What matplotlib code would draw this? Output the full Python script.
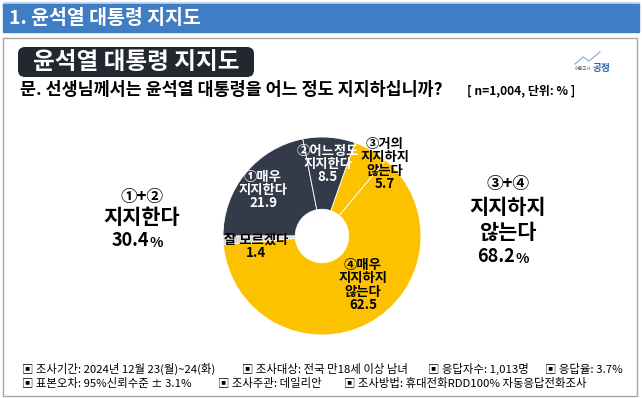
import numpy as np
import matplotlib.pyplot as plt
from matplotlib.patches import Rectangle, FancyBboxPatch

plt.rcParams['font.family'] = ['Noto Sans CJK KR', 'DejaVu Sans']

# 데이터
labels = ['①매우\n지지한다', '②어느정도\n지지한다', '③거의\n지지하지\n않는다', '④매우\n지지하지\n않는다', '잘 모르겠다']
values = [21.9, 8.5, 5.7, 62.5, 1.4]
colors = ['#333b4b', '#333b4b', '#fcc200', '#fcc200', '#d9d9d9']
txt_colors = ['white', 'white', 'black', 'black', 'black']
footer1 = ['조사기간: 2024년 12월 23(월)~24(화)', '조사대상: 전국 만18세 이상 남녀', '응답자수: 1,013명', '응답율: 3.7%']
footer2 = ['표본오차: 95%신뢰수준 ± 3.1%', '조사주관: 데일리안', '조사방법: 휴대전화RDD100% 자동응답전화조사']

W, H = 642, 398
fig = plt.figure(figsize=(W/100, H/100), dpi=100)
bg = fig.add_axes([0, 0, 1, 1])
bg.set_xlim(0, W)
bg.set_ylim(H, 0)
bg.axis('off')

# 상단 헤더
bg.add_patch(Rectangle((3, 1.5), 636, 2.5, color='#c9dbf0'))
bg.add_patch(Rectangle((3, 4), 636, 28, color='#3f7ec4'))
bg.text(9, 18.5, '1. 윤석열 대통령 지지도', color='white', fontsize=14, fontweight='bold', va='center')

# 본문 패널
bg.add_patch(Rectangle((3, 38), 634, 358, facecolor='white', edgecolor='#a6a6a6', lw=1))
bg.add_patch(FancyBboxPatch((20, 49), 232, 26, boxstyle='round,pad=2,rounding_size=7',
                            facecolor='#23272f', edgecolor='none'))
bg.text(136, 62, '윤석열 대통령 지지도', color='white', fontsize=17, fontweight='bold',
        ha='center', va='center')

# 로고
lx = [575, 583, 589, 600]
ly = [64, 57, 61, 52]
bg.plot(lx, ly, color='#8fb3d9', lw=0.9)
bg.text(591, 68, '여론조사', fontsize=3.2, color='#666666', ha='right', va='center')
bg.text(593, 68, '공정', fontsize=7, color='#2f5fa8', fontweight='bold', va='center')

bg.text(20, 90, '문. 선생님께서는 윤석열 대통령을 어느 정도 지지하십니까?', fontsize=12.5,
        fontweight='bold', va='center')
bg.text(467, 91, '[ n=1,004, 단위: % ]', fontsize=8.6, fontweight='bold', va='center')

# 도넛 차트
cx, cy, r = 322, 236, 99
pax = fig.add_axes([(cx - r)/W, (H - cy - r)/H, 2*r/W, 2*r/H])
pax.pie(values, colors=colors, startangle=180, counterclock=False,
        wedgeprops=dict(width=0.73, edgecolor='white', linewidth=0.6))
pax.set_xlim(-1, 1)
pax.set_ylim(-1, 1)

# 글자용 최상단 레이어
top = fig.add_axes([0, 0, 1, 1])
top.set_xlim(0, W)
top.set_ylim(H, 0)
top.axis('off')

lab_pos = [(263, 190), (328, 164), (385, 164), (363, 285), (256, 246)]
for lab, v, c, (x, y) in zip(labels, values, txt_colors, lab_pos):
    top.text(x, y, f'{lab}\n{v}', color=c, fontsize=9.6, fontweight='bold',
             ha='center', va='center', linespacing=0.92)

# 합계
sup = values[0] + values[1]
opp = values[2] + values[3]
top.text(142, 197, '①+②', fontsize=12, fontweight='bold', ha='center', va='center')
top.text(142, 217, '지지한다', fontsize=15, fontweight='bold', ha='center', va='center')
top.text(149, 241, f'{sup:.1f}', fontsize=13, fontweight='bold', ha='right', va='center')
top.text(149, 243, '%', fontsize=10, fontweight='bold', ha='left', va='center')

top.text(508, 184, '③+④', fontsize=12, fontweight='bold', ha='center', va='center')
top.text(508, 207, '지지하지', fontsize=15, fontweight='bold', ha='center', va='center')
top.text(508, 232, '않는다', fontsize=15, fontweight='bold', ha='center', va='center')
top.text(515, 257, f'{opp:.1f}', fontsize=13, fontweight='bold', ha='right', va='center')
top.text(515, 259, '%', fontsize=10, fontweight='bold', ha='left', va='center')

# 하단 조사개요
for s, x in zip(footer1, [22, 242, 428, 545]):
    top.text(x, 369, '▣ ' + s, fontsize=8.2, fontweight='medium', va='center')
for s, x in zip(footer2, [22, 218, 344]):
    top.text(x, 384, '▣ ' + s, fontsize=8.2, fontweight='medium', va='center')

fig.savefig('out.png', dpi=100)
